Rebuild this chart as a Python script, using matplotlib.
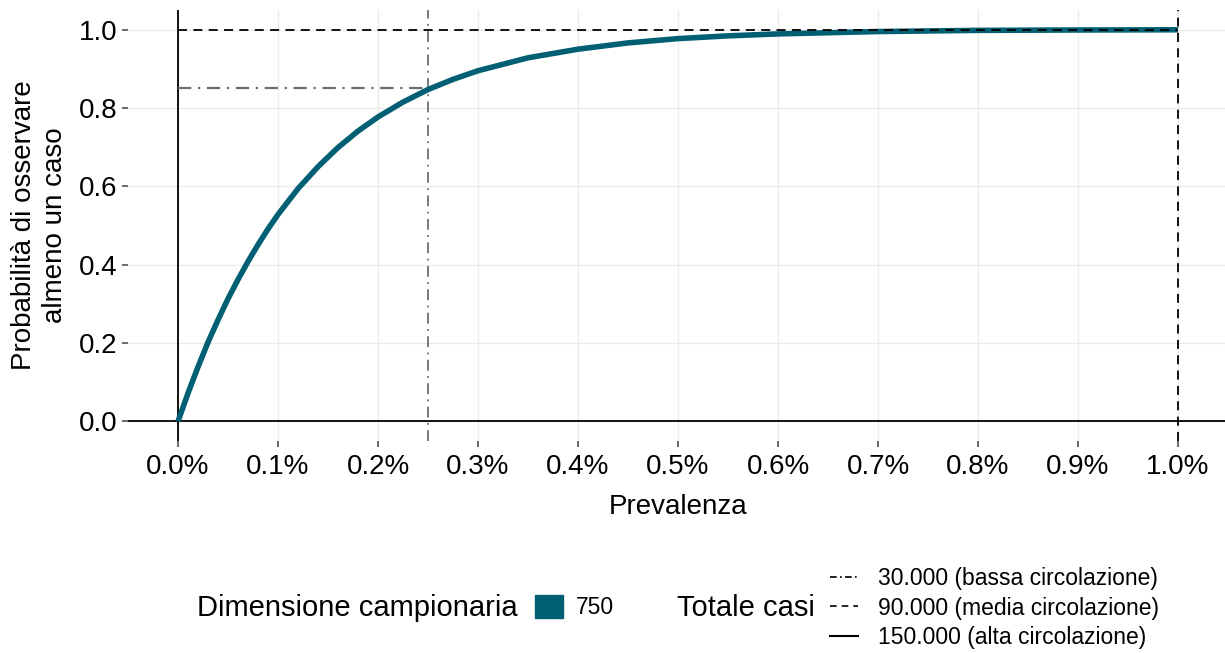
import matplotlib
matplotlib.use("Agg")
import matplotlib.pyplot as plt
from matplotlib.lines import Line2D
from matplotlib.patches import Patch

# data (prevalence in %, probability)
prevalenza = [0.0, 0.01, 0.02, 0.03, 0.04, 0.05, 0.06, 0.07, 0.08, 0.09, 0.10,
              0.12, 0.14, 0.16, 0.18, 0.20, 0.225, 0.25, 0.275, 0.30, 0.35,
              0.40, 0.45, 0.50, 0.55, 0.60, 0.70, 0.80, 0.90, 1.00]
probabilita = [0.0, 0.072, 0.139, 0.202, 0.259, 0.313, 0.362, 0.408, 0.451, 0.491, 0.528,
               0.594, 0.650, 0.699, 0.741, 0.777, 0.815, 0.847, 0.873, 0.895, 0.928,
               0.950, 0.966, 0.977, 0.984, 0.989, 0.995, 0.998, 0.999, 0.9995]

soglia_prev = 0.25
soglia_prob = 0.85

x_ticks = [0.0, 0.1, 0.2, 0.3, 0.4, 0.5, 0.6, 0.7, 0.8, 0.9, 1.0]
y_ticks = [0.0, 0.2, 0.4, 0.6, 0.8, 1.0]

campione = "750"
casi_labels = ["30.000 (bassa circolazione)", "90.000 (media circolazione)",
               "150.000 (alta circolazione)"]

teal = "#005f73"
grigio = "#6b6f75"
W, H = 1225, 653

plt.rcParams["font.family"] = ["Liberation Sans", "DejaVu Sans"]

fig = plt.figure(figsize=(12.25, 6.53), dpi=100)
ax = fig.add_axes([128 / W, 1 - 441 / H, 1100 / W, 431 / H])

ax.set_xlim(-0.05, 1.05)
ax.set_ylim(-0.05, 1.05)
ax.set_xticks(x_ticks)
ax.set_xticklabels(["%.1f%%" % v for v in x_ticks])
ax.set_yticks(y_ticks)
ax.set_yticklabels(["%.1f" % v for v in y_ticks])
ax.grid(True, color="#ebebeb", lw=1.0, zorder=0)
for s in ax.spines.values():
    s.set_visible(False)
ax.tick_params(axis="both", length=4.5, width=1.1, color="#444444",
               labelsize=20, pad=3)
ax.tick_params(axis="x", pad=5)
ax.set_xlabel("Prevalenza", fontsize=20, labelpad=10)
ax.set_ylabel("Probabilità di osservare\nalmeno un caso", fontsize=20, labelpad=8,
              linespacing=1.25)

# reference lines
ax.axvline(0, color="black", lw=1.3, zorder=2)
ax.axhline(0, color="black", lw=1.3, zorder=2)
ax.axvline(1.0, color="black", lw=1.3, ls=(0, (5, 3.5)), zorder=4)
ax.plot([0, 1.0], [1.0, 1.0], color="black", lw=1.3, ls=(0, (5, 3.5)), zorder=4)
ax.axvline(soglia_prev, color=grigio, lw=1.3, ls=(0, (6, 3, 1, 3)), zorder=2)
ax.plot([0, soglia_prev], [soglia_prob, soglia_prob], color=grigio, lw=1.6,
        ls=(0, (6, 3, 1, 3)), zorder=2)

ax.plot(prevalenza, probabilita, color=teal, lw=4.0, zorder=3, solid_capstyle="butt")

# legends
fig.text(197 / W, 1 - 608 / H, "Dimensione campionaria", fontsize=21,
         va="center", ha="left")
fig.legend([Patch(facecolor=teal, edgecolor=teal)], [campione],
           loc="center left", bbox_to_anchor=(535 / W, 1 - 607 / H),
           frameon=False, fontsize=16.5, handlelength=1.2, handleheight=1.2,
           handletextpad=0.6, borderpad=0, borderaxespad=0)

fig.text(677 / W, 1 - 608 / H, "Totale casi", fontsize=21, va="center", ha="left")
casi_handles = [Line2D([], [], color="black", lw=1.2, ls=(0, (4, 2, 1, 2))),
                Line2D([], [], color="black", lw=1.2, ls=(0, (4, 3))),
                Line2D([], [], color="black", lw=1.5)]
fig.legend(casi_handles, casi_labels, loc="center left",
           bbox_to_anchor=(830 / W, 1 - 608 / H), frameon=False, fontsize=16.5,
           handlelength=1.2, handletextpad=0.9, labelspacing=0.3, borderpad=0,
           borderaxespad=0)

fig.savefig("out.png", dpi=100)
